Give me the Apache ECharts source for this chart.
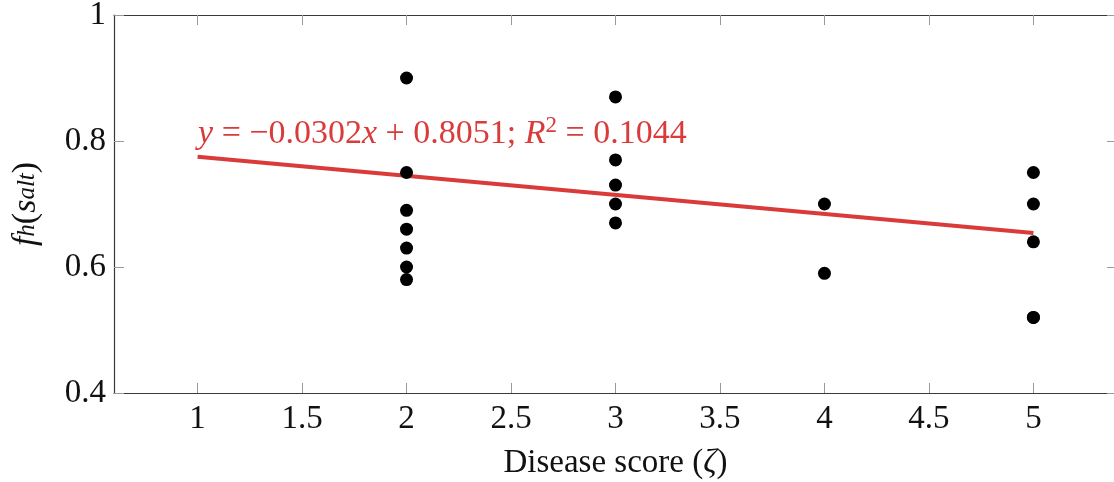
<!DOCTYPE html>
<html><head><meta charset="utf-8">
<script src="https://cdn.jsdelivr.net/npm/echarts@6/dist/echarts.min.js"></script>
<style>html,body{margin:0;padding:0;background:#fff}#c{width:1114px;height:482px}</style>
</head><body><div id="c"></div>
<script>
const xTicks = [1, 1.5, 2, 2.5, 3, 3.5, 4, 4.5, 5];
const yTicks = [0.4, 0.6, 0.8, 1];
const scoreX = [2, 2, 2, 2, 2, 2, 2, 3, 3, 3, 3, 3, 4, 4, 5, 5, 5, 5, 5];
const scoreY = [0.90, 0.75, 0.69, 0.66, 0.63, 0.60, 0.58, 0.87, 0.77, 0.73, 0.70, 0.67, 0.70, 0.59, 0.75, 0.70, 0.64, 0.52, 0.52];
const fitX = [1, 5];
const fitY = [0.775, 0.654];
const fitText = '{i|y} = −0.0302{i|x} + 0.8051; {i|R}{sup|2} = 0.1044';

const FONT = '"Liberation Serif", "DejaVu Serif", serif';
const RED = '#d93a3a';
const fs = 33;
const efs = 34;

const chart = echarts.init(document.getElementById('c'), null, {renderer: 'canvas'});
const tickStyle = {color: '#9a9a9a', width: 1};
const axisLineStyle = {color: '#3a3a3a', width: 1.2};
function fmt(v){ return String(Math.round(v*10)/10); }

chart.setOption({
  backgroundColor: '#fff',
  animation: false,
  grid: {left: 114, right: -3, top: 15, bottom: 89, containLabel: false, outerBoundsMode: 'none'},
  xAxis: [{
    type: 'value', min: 0.6, max: 5.4, position: 'bottom',
    name: 'Disease score ({i|ζ})', nameLocation: 'middle', nameGap: 54,
    nameTextStyle: {fontFamily: FONT, fontSize: fs, color: '#111',
      rich: {i: {fontFamily: FONT, fontStyle: 'italic', fontSize: fs, color: '#111'}}},
    axisLine: {show: true, onZero: false, lineStyle: axisLineStyle},
    axisTick: {show: true, inside: true, length: 10, customValues: xTicks, lineStyle: tickStyle},
    axisLabel: {show: true, customValues: xTicks, formatter: fmt, margin: 10, fontFamily: FONT, fontSize: fs, color: '#111'},
    splitLine: {show: false}
  }, {
    type: 'value', min: 0.6, max: 5.4, position: 'top',
    axisLine: {show: true, onZero: false, lineStyle: axisLineStyle},
    axisTick: {show: true, inside: true, length: 10, customValues: xTicks, lineStyle: tickStyle},
    axisLabel: {show: false}, splitLine: {show: false}
  }],
  yAxis: [{
    type: 'value', min: 0.4, max: 1, interval: 0.2, position: 'left',
    name: '{i|f}{sub|h}{n|(}{i|s}{sub|alt}{n|)}', nameLocation: 'middle', nameGap: 68, nameRotate: 90,
    nameTextStyle: {fontFamily: FONT, fontSize: 34, color: '#111',
      rich: {
        i: {fontFamily: FONT, fontStyle: 'italic', fontSize: 34, color: '#111', lineHeight: 40, verticalAlign: 'middle'},
        n: {fontFamily: FONT, fontSize: 34, color: '#111', lineHeight: 40, verticalAlign: 'middle'},
        sub: {fontFamily: FONT, fontStyle: 'italic', fontSize: 25, color: '#111', lineHeight: 40, verticalAlign: 'bottom', padding: [0,0,6,0]}
      }},
    axisLine: {show: true, onZero: false, lineStyle: axisLineStyle},
    axisTick: {show: true, inside: true, length: 10, lineStyle: tickStyle},
    axisLabel: {show: true, formatter: fmt, margin: 8, fontFamily: FONT, fontSize: fs, color: '#111'},
    splitLine: {show: false}
  }, {
    type: 'value', min: 0.4, max: 1, interval: 0.2, position: 'right',
    axisLine: {show: true, onZero: false, lineStyle: axisLineStyle},
    axisTick: {show: true, inside: true, length: 10, lineStyle: tickStyle},
    axisLabel: {show: false}, splitLine: {show: false}
  }],
  series: [{
    type: 'scatter', xAxisIndex: 0, yAxisIndex: 0,
    data: scoreX.map((x, i) => [x, scoreY[i]]),
    symbol: 'circle', symbolSize: 13,
    itemStyle: {color: '#000', opacity: 1}, z: 3
  }, {
    type: 'line', xAxisIndex: 0, yAxisIndex: 0,
    data: fitX.map((x, i) => [x, fitY[i]]),
    showSymbol: false, symbol: 'none',
    lineStyle: {color: RED, width: 4}, z: 2,
    markPoint: {
      symbol: 'circle', symbolSize: 1, itemStyle: {color: 'rgba(0,0,0,0)'},
      data: [{coord: [fitX[0], fitY[0]]}],
      label: {show: true, position: [0, 0], align: 'left', verticalAlign: 'bottom', offset: [1, -2], formatter: fitText,
        fontFamily: FONT, fontSize: efs, color: RED, lineHeight: 40,
        rich: {
          i: {fontFamily: FONT, fontStyle: 'italic', fontSize: efs, color: RED, lineHeight: 40},
          sup: {fontFamily: FONT, fontSize: 23, color: RED, verticalAlign: 'top', lineHeight: 40, padding: [0,0,14,0]}
        }}
    }
  }]
});
</script></body></html>
